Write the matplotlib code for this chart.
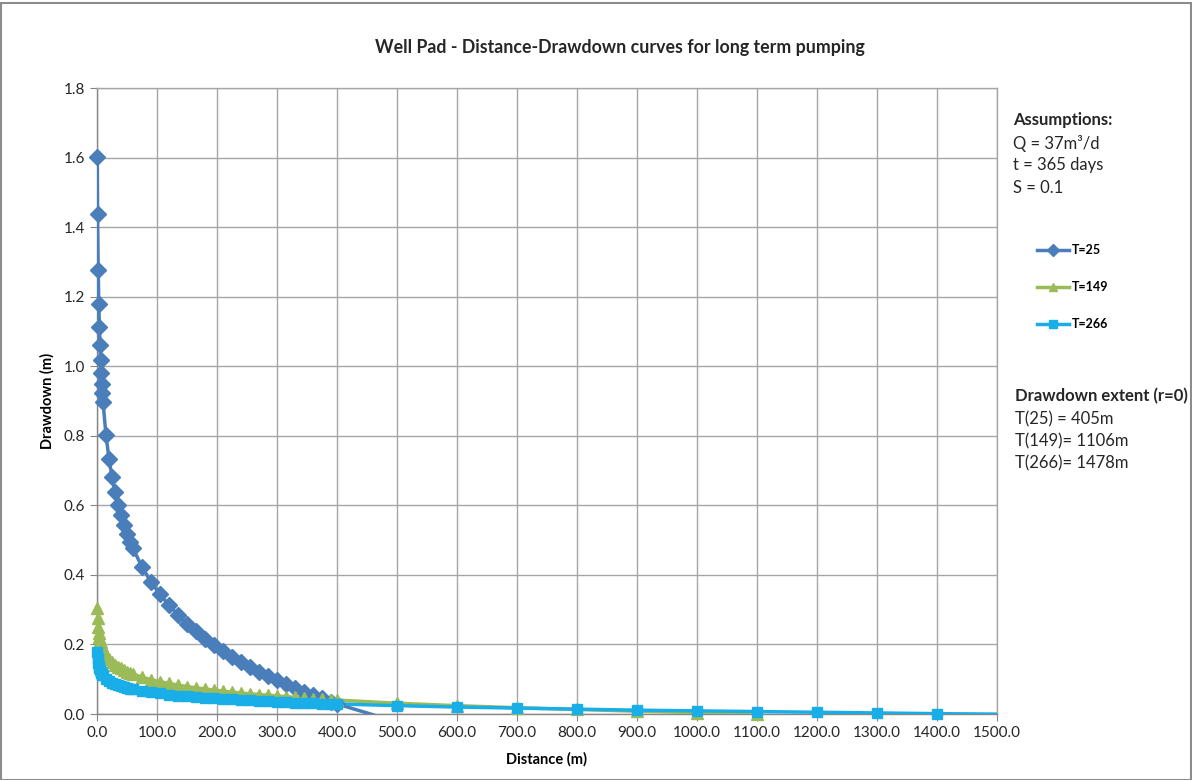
import matplotlib
matplotlib.use("Agg")
import matplotlib.pyplot as plt
from matplotlib.lines import Line2D
from matplotlib.patches import Rectangle

plt.rcParams['font.family'] = ['Lato', 'DejaVu Sans']

# distance from the well (m)
distance = [0.5, 1, 2, 3, 4, 5, 6, 7, 8, 9, 10,
            15, 20, 25, 30, 35, 40, 45, 50, 55, 60,
            75, 90, 105, 120, 135, 150, 165, 180, 195, 210, 225, 240,
            255, 270, 285, 300, 315, 330, 345, 360, 375, 390, 400,
            500, 600, 700, 800, 900, 1000, 1100, 1200, 1300, 1400, 1500]

# drawdown (m) for each transmissivity
t25 = [1.602, 1.439, 1.276, 1.180, 1.113, 1.060, 1.017, 0.981, 0.950, 0.922, 0.897,
       0.802, 0.734, 0.682, 0.639, 0.602, 0.571, 0.543, 0.519, 0.496, 0.476,
       0.423, 0.380, 0.344, 0.313, 0.285, 0.260, 0.238, 0.217, 0.198, 0.181, 0.165, 0.150,
       0.135, 0.122, 0.109, 0.097, 0.086, 0.075, 0.064, 0.054, 0.045, 0.035, 0.029,
       -0.023]

t149 = [0.304, 0.277, 0.249, 0.233, 0.222, 0.213, 0.206, 0.200, 0.195, 0.190, 0.186,
        0.170, 0.158, 0.150, 0.142, 0.136, 0.131, 0.126, 0.122, 0.119, 0.115,
        0.106, 0.099, 0.093, 0.088, 0.083, 0.079, 0.075, 0.072, 0.069, 0.066, 0.063, 0.060,
        0.058, 0.056, 0.054, 0.052, 0.050, 0.048, 0.046, 0.044, 0.043, 0.041, 0.040,
        0.031, 0.024, 0.018, 0.013, 0.008, 0.004, 0.0002]

t266 = [0.177, 0.161, 0.146, 0.137, 0.131, 0.126, 0.122, 0.118, 0.115, 0.113, 0.111,
        0.102, 0.095, 0.090, 0.086, 0.083, 0.080, 0.077, 0.075, 0.073, 0.071,
        0.066, 0.062, 0.059, 0.056, 0.053, 0.051, 0.049, 0.047, 0.045, 0.043, 0.042, 0.040,
        0.039, 0.038, 0.036, 0.035, 0.034, 0.033, 0.032, 0.031, 0.030, 0.030, 0.029,
        0.024, 0.020, 0.017, 0.014, 0.011, 0.009, 0.007, 0.005, 0.003, 0.001, -0.0003]

series = [
    ("T=25", t25, "#4A7EBB", "D", 8),
    ("T=149", t149, "#9BBB59", "^", 9),
    ("T=266", t266, "#1AAEE8", "s", 6.5),
]

fig = plt.figure(figsize=(11.92, 7.8), dpi=100)
ax = fig.add_axes([97 / 1192, 1 - 714 / 780, 900 / 1192, 626 / 780])

handles = []
for label, s, color, mk, ms in series:
    x = distance[:len(s)]
    ax.plot(x, s, color=color, lw=2.5, zorder=3)
    # Excel keeps markers un-clipped, only draw those inside the value range
    xm = [xi for xi, yi in zip(x, s) if yi >= 0]
    ym = [yi for yi in s if yi >= 0]
    ax.plot(xm, ym, ls="none", marker=mk, ms=ms, color=color, clip_on=False, zorder=4)
    handles.append(Line2D([], [], color=color, lw=2.5, marker=mk, ms=6))

ax.set_xlim(0, 1500)
ax.set_ylim(0, 1.8)
ax.set_xticks(range(0, 1501, 100))
ax.set_xticklabels([f"{v:.1f}" for v in range(0, 1501, 100)])
ax.set_yticks([i * 0.2 for i in range(10)])
ax.set_yticklabels([f"{i * 0.2:.1f}" for i in range(10)])
ax.grid(True, color="#A6A6A6", lw=1)
ax.set_axisbelow(True)
for sp in ax.spines.values():
    sp.set_color("#A6A6A6")
    sp.set_linewidth(1)
ax.spines["left"].set_color("#868686")
ax.spines["bottom"].set_color("#868686")
ax.tick_params(axis="both", direction="out", length=5, color="#868686",
               labelsize=11, labelcolor="#262626")
ax.set_xlabel("Distance (m)", fontsize=10.5, fontweight="bold", labelpad=9)
ax.set_ylabel("Drawdown (m)", fontsize=10.5, fontweight="bold", labelpad=7)

fig.text(0.520, 1 - 47 / 780, "Well Pad - Distance-Drawdown curves for long term pumping",
         ha="center", va="center", fontsize=12.8, fontweight="bold", color="#262626")

fig.legend(handles, ["T=25", "T=149", "T=266"], loc="upper left",
           bbox_to_anchor=(1026 / 1192, 1 - 233 / 780), frameon=False,
           prop={"size": 9, "weight": "bold"}, labelspacing=2.0,
           handlelength=2.5, handletextpad=0.3)

tx = 1013 / 1192
fig.text(tx, 1 - 120 / 780, "Assumptions:", fontsize=12, fontweight="bold",
         va="center", color="#262626")
for i, line in enumerate(["Q = 37m³/d", "t = 365 days", "S = 0.1"]):
    fig.text(tx, 1 - (143 + 22.3 * i) / 780, line, fontsize=12, va="center", color="#262626")

fig.text(1015 / 1192, 1 - 396 / 780, "Drawdown extent (r=0)", fontsize=12,
         fontweight="bold", va="center", color="#262626")
for i, line in enumerate(["T(25) = 405m", "T(149)= 1106m", "T(266)= 1478m"]):
    fig.text(1015 / 1192, 1 - (419 + 22.3 * i) / 780, line, fontsize=12,
             va="center", color="#262626")

fig.patches.append(Rectangle((0.001, 0.0), 0.998, 0.996, transform=fig.transFigure,
                             fill=False, edgecolor="#8C8C8C", lw=1.5))

fig.savefig("out.png", dpi=100)
